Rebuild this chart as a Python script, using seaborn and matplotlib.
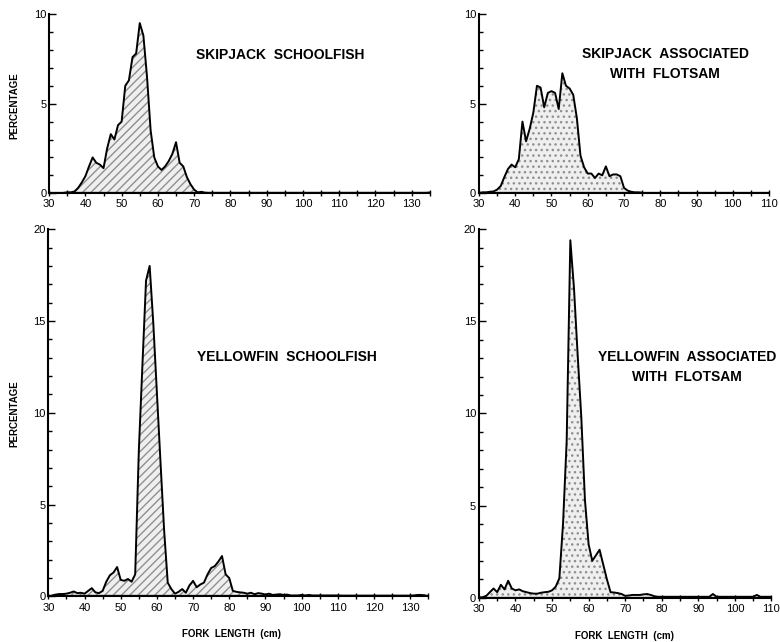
import numpy as np
import pandas as pd
import matplotlib
matplotlib.use("Agg")
import matplotlib.pyplot as plt
from matplotlib.ticker import MultipleLocator
import seaborn as sns

# -----------------------------
# Data (percentage by fork length, cm)
# -----------------------------

skj_school_len = list(range(33, 136))
skj_school_pct = [
    0.0, 0.02, 0.05, 0.05, 0.1, 0.3, 0.6, 0.95, 1.5, 2.0,
    1.7, 1.6, 1.4, 2.5, 3.3, 3.0, 3.8, 4.0, 6.0, 6.3,
    7.6, 7.8, 9.5, 8.8, 6.5, 3.5, 2.0, 1.5, 1.3, 1.5,
    1.8, 2.2, 2.85, 1.7, 1.5, 0.9, 0.5, 0.2, 0.05, 0.08,
    0.03,
] + [0.02] * 61 + [0.04]

skj_flot_len = list(range(30, 111))
skj_flot_pct = [
    0.0, 0.05, 0.05, 0.08, 0.1, 0.2, 0.4, 0.9, 1.35, 1.6,
    1.45, 1.9, 4.0, 2.9, 3.6, 4.5, 6.0, 5.9, 4.8, 5.6,
    5.7, 5.6, 4.7, 6.7, 6.0, 5.85, 5.5, 4.2, 2.1, 1.45,
    1.1, 1.1, 0.85, 1.1, 1.0, 1.5, 0.95, 1.05, 1.05, 0.95,
    0.3, 0.15, 0.08, 0.05, 0.05, 0.03,
] + [0.0] * 35

yft_school_len = list(range(31, 136))
yft_school_pct = [
    0.05, 0.1, 0.13, 0.13, 0.15, 0.2, 0.27, 0.18, 0.2, 0.15,
    0.3, 0.45, 0.22, 0.18, 0.3, 0.8, 1.15, 1.3, 1.6, 0.9,
    0.85, 0.95, 0.8, 1.2, 7.9, 12.6, 17.2, 18.0, 14.9, 11.1,
    7.3, 3.6, 0.75, 0.4, 0.15, 0.25, 0.4, 0.2, 0.6, 0.85,
    0.5, 0.65, 0.75, 1.2, 1.55, 1.65, 1.9, 2.2, 1.2, 1.0,
    0.3, 0.25, 0.22, 0.2, 0.15, 0.2, 0.12, 0.18, 0.15, 0.1,
    0.15, 0.08, 0.1, 0.12, 0.08, 0.1, 0.05, 0.05, 0.05, 0.08,
    0.05, 0.08, 0.05, 0.05, 0.05, 0.05, 0.05, 0.05, 0.05, 0.05,
    0.04, 0.04, 0.04, 0.04, 0.04, 0.04, 0.04, 0.04, 0.04, 0.04,
    0.04, 0.04, 0.04, 0.04, 0.04, 0.04, 0.04, 0.04, 0.04, 0.04,
    0.05, 0.08, 0.08, 0.06, 0.0,
]

yft_flot_len = list(range(30, 111))
yft_flot_pct = [
    0.0, 0.03, 0.1, 0.3, 0.5, 0.3, 0.7, 0.45, 0.92, 0.5,
    0.4, 0.45, 0.35, 0.3, 0.25, 0.22, 0.22, 0.27, 0.3, 0.32,
    0.4, 0.6, 1.05, 4.0, 8.5, 19.4, 16.8, 13.2, 9.8, 5.3,
    2.9, 2.0, 2.3, 2.6, 1.8, 1.0, 0.3, 0.28, 0.25, 0.2,
    0.1, 0.12, 0.15, 0.15, 0.15, 0.18, 0.2, 0.15, 0.08, 0.05,
    0.05, 0.05, 0.05, 0.05, 0.05, 0.05, 0.05, 0.05, 0.05, 0.05,
    0.05, 0.05, 0.05, 0.05, 0.2, 0.05, 0.05, 0.05, 0.05, 0.05,
    0.05, 0.05, 0.05, 0.05, 0.05, 0.05, 0.15, 0.05, 0.05, 0.05,
    0.05,
]

sns.set_style("ticks", {"axes.edgecolor": "black", "xtick.color": "black",
                        "ytick.color": "black", "text.color": "black"})
plt.rcParams["font.family"] = ["Liberation Sans", "DejaVu Sans"]

fig = plt.figure(figsize=(7.8, 6.42), dpi=100)

panels = [
    # x, y, axes rect, xmax, ymax, hatch
    (skj_school_len, skj_school_pct, [0.063, 0.699, 0.488, 0.279], 135, 10, "////"),
    (skj_flot_len, skj_flot_pct, [0.614, 0.699, 0.372, 0.279], 110, 10, "..."),
    (yft_school_len, yft_school_pct, [0.062, 0.071, 0.487, 0.572], 135, 20, "////"),
    (yft_flot_len, yft_flot_pct, [0.614, 0.069, 0.375, 0.574], 110, 20, "..."),
]

for x, y, rect, xmax, ymax, hatch in panels:
    ax = fig.add_axes(rect)
    df = pd.DataFrame({"length": x, "pct": y})
    ax.fill_between(df["length"], df["pct"], 0, facecolor="#efefef",
                    edgecolor="#909090", hatch=hatch, linewidth=0)
    sns.lineplot(data=df, x="length", y="pct", ax=ax,
                 color="black", linewidth=1.4)
    ax.axhline(0, color="black", linewidth=1.6)
    ax.set_xlim(30, xmax)
    ax.set_ylim(0, ymax)
    ax.xaxis.set_major_locator(MultipleLocator(10))
    ax.xaxis.set_minor_locator(MultipleLocator(5))
    ax.yaxis.set_major_locator(MultipleLocator(5))
    ax.yaxis.set_minor_locator(MultipleLocator(1))
    ax.tick_params(axis="y", which="major", direction="in", length=5,
                   width=1, labelsize=8, pad=2, labelcolor="black")
    ax.tick_params(axis="y", which="minor", direction="in", length=3, width=1)
    ax.tick_params(axis="x", which="both", direction="inout", length=5,
                   width=1, labelsize=8, pad=2, labelcolor="black")
    ax.set_xlabel("")
    ax.set_ylabel("")
    for s in ["top", "right"]:
        ax.spines[s].set_visible(False)
    for s in ["left", "bottom"]:
        ax.spines[s].set_linewidth(1.5)

# -----------------------------
# Panel titles and axis labels
# -----------------------------

title_kw = dict(ha="center", va="center", fontsize=10, fontweight="bold",
                color="black")
fig.text(0.359, 0.914, "SKIPJACK  SCHOOLFISH", **title_kw)
fig.text(0.853, 0.900, "SKIPJACK  ASSOCIATED\nWITH  FLOTSAM",
         linespacing=1.5, **title_kw)
fig.text(0.368, 0.444, "YELLOWFIN  SCHOOLFISH", **title_kw)
fig.text(0.881, 0.428, "YELLOWFIN  ASSOCIATED\nWITH  FLOTSAM",
         linespacing=1.5, **title_kw)

label_kw = dict(ha="center", va="center", fontsize=7, fontweight="bold",
                color="black")
fig.text(0.018, 0.836, "PERCENTAGE", rotation=90, **label_kw)
fig.text(0.018, 0.356, "PERCENTAGE", rotation=90, **label_kw)
fig.text(0.297, 0.012, "FORK  LENGTH  (cm)", **label_kw)
fig.text(0.801, 0.009, "FORK  LENGTH  (cm)", **label_kw)

plt.savefig("out.png", dpi=100)
